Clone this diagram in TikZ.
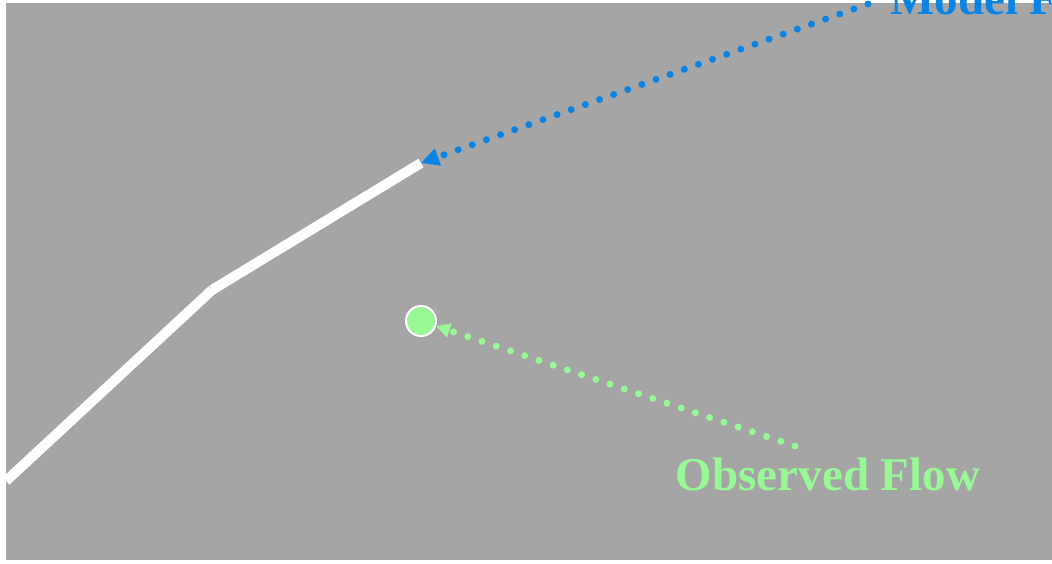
\documentclass[tikz,border=0pt]{standalone}
\usepackage{fontspec}
\setmainfont{Liberation Serif}
\usetikzlibrary{arrows.meta}

\definecolor{bggray}{RGB}{165,165,165}
\definecolor{modblue}{RGB}{10,132,228}
\definecolor{obsgreen}{RGB}{152,248,150}

\begin{document}
\begin{tikzpicture}[
  x=1pt, y=-1pt,
  flowline/.style ={white, line width=10pt},
  obsdot/.style   ={circle, fill=obsgreen, draw=white, line width=2pt, minimum size=30pt, inner sep=0pt},
  lbl/.style      ={font=\bfseries\fontsize{47}{50}\selectfont, inner sep=0pt},
  dotarc/.style   ={line width=7pt, line cap=round, dash pattern=on 0pt off 15pt},
]

% ---- Canvas ------------------------------------------------------------------
\useasboundingbox (0,0) rectangle (1052,563);
\fill[white] (0,0) rectangle (1052,563);
\fill[bggray] (6,3) rectangle (1052,560);

% ---- Model flow path ---------------------------------------------------------
\coordinate (lineA) at (6,481);
\coordinate (lineB) at (212,290);
\coordinate (lineC) at (421,163);
\draw[flowline] (lineA) -- (lineB);
\draw[flowline] (lineB) -- (lineC);

% ---- Observed point ----------------------------------------------------------
\node[obsdot] (obs) at (421,321) {};

% ---- Labels ------------------------------------------------------------------
\node[lbl, text=obsgreen, anchor=base] (obslabel) at (828,490) {Observed Flow};
\node[lbl, text=modblue, anchor=base west] (modlabel) at (890,14) {Model Flow};

% ---- Pointers ----------------------------------------------------------------
\coordinate (obstail) at (795,446);
\coordinate (modtail) at (868,4);
\draw[dotarc, obsgreen, -{Triangle[length=14pt,width=14pt]}] (obstail) -- (obs);
\draw[dotarc, modblue, -{Triangle[length=18pt,width=17pt]}] (modtail) -- (lineC);

\end{tikzpicture}
\end{document}
